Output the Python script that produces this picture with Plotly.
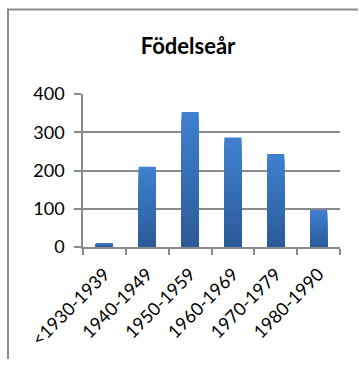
import plotly.graph_objects as go

# Birth-year groups and the number of people in each
categories = ["<1930-1939", "1940-1949", "1950-1959", "1960-1969", "1970-1979", "1980-1990"]
counts = [10, 210, 353, 286, 243, 97]
y_ticks = [0, 100, 200, 300, 400]

FONT = "Lato"
GRID = "#8a8a8a"

# Plot area in pixels: x 83..340, y 94..247
PL, PR, PT, PB = 83, 340, 94, 247
W, H = 364, 365

# Vertical shading of the columns: stacked overlays, lighter at the top, darker towards the base
top_rgb = (63, 128, 208)
bottom_rgb = (43, 91, 153)
steps = 30

fig = go.Figure()
for k in range(steps):
    t = k / (steps - 1)
    r, g, b = (round(a + (c - a) * t) for a, c in zip(top_rgb, bottom_rgb))
    frac = (steps - k) / steps
    fig.add_trace(go.Bar(
        x=categories,
        y=[v * frac for v in counts],
        marker=dict(color=f"rgb({r},{g},{b})", line=dict(width=0)),
        showlegend=False,
        hoverinfo="skip" if k else None,
    ))


def px_x(p):
    return (p - PL) / (PR - PL)


def px_y(p):
    return (PB - p) / (PB - PT)


# Chart frame: left and top edges as one open path in paper coordinates
x_left, x_right = px_x(8), px_x(W - 6)
y_top, y_bottom = px_y(9.5), px_y(H - 6)
frame_path = f"M{x_left},{y_bottom} L{x_left},{y_top} L{x_right},{y_top}"
shapes = [
    dict(type="path", xref="paper", yref="paper", path=frame_path,
         line=dict(color="#8a8a8a", width=2), fillcolor="rgba(0,0,0,0)", layer="below"),
]

fig.update_layout(
    width=W, height=H,
    margin=dict(l=PL, r=W - PR, t=PT, b=H - PB),
    paper_bgcolor="white", plot_bgcolor="white",
    barmode="overlay", bargap=0.6,
    font=dict(family=FONT, size=18, color="black"),
    title=dict(text="<b>Födelseår</b>", font=dict(family=FONT, size=22, color="black"),
               x=px_x(188), xref="paper", xanchor="center",
               y=1 - 46 / H, yref="container", yanchor="middle"),
    xaxis=dict(type="category", tickangle=-45, tickson="boundaries",
               ticks="outside", ticklen=6, tickcolor=GRID, tickwidth=1.5,
               showline=True, linecolor=GRID, linewidth=1.5,
               showgrid=False, ticklabelstandoff=8, tickfont=dict(family=FONT, size=18)),
    yaxis=dict(range=[0, 400], tickvals=y_ticks, ticks="outside", ticklen=7,
               tickcolor=GRID, tickwidth=1.5, showline=True, linecolor=GRID, linewidth=1.5,
               showgrid=True, gridcolor=GRID, gridwidth=1.5, zeroline=False,
               ticklabelstandoff=6, tickfont=dict(family=FONT, size=18)),
    shapes=shapes,
)

fig.write_html("out.html")
